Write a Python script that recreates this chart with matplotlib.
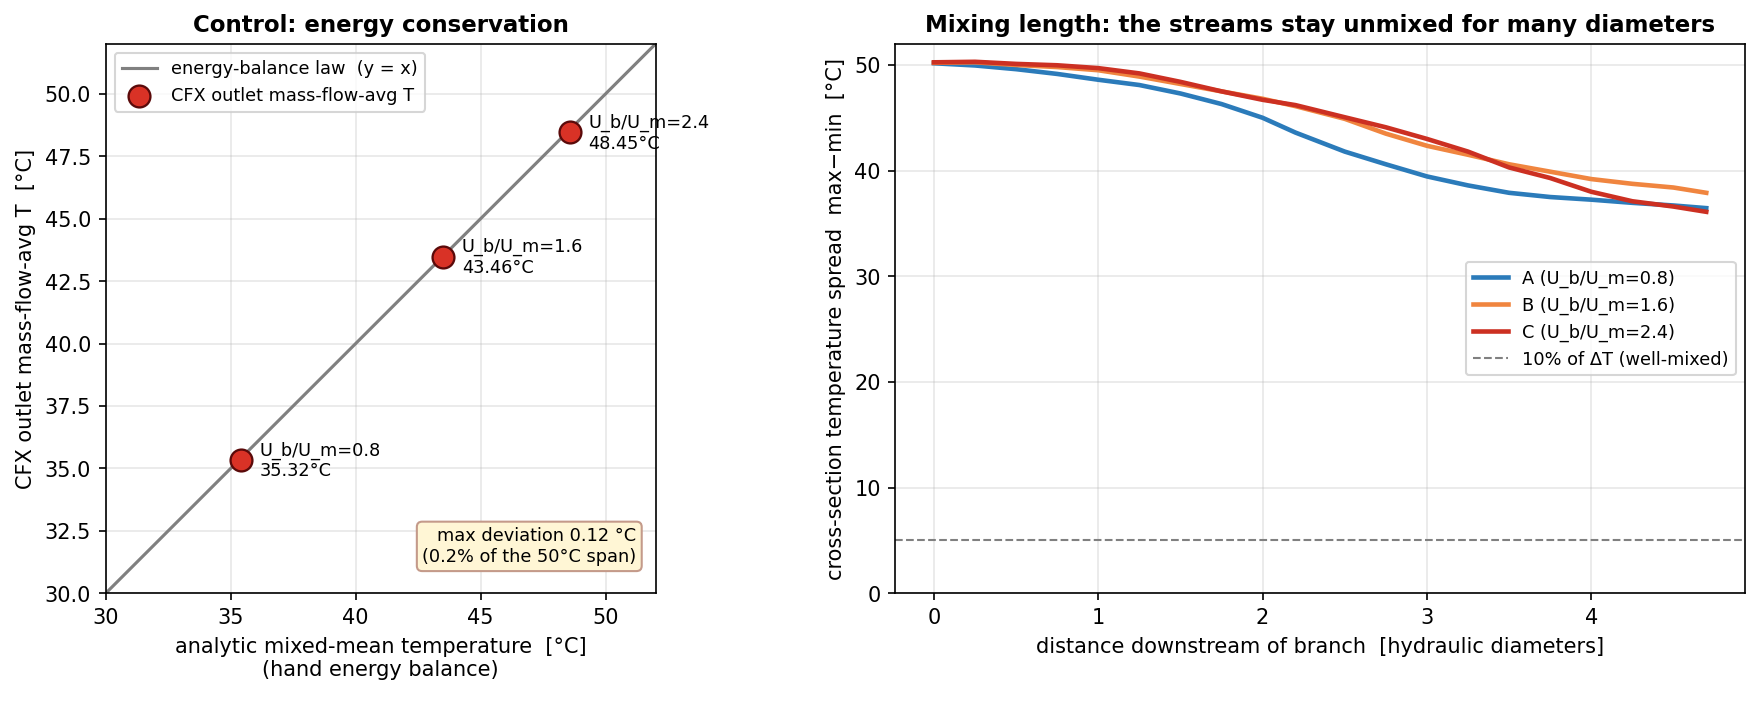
import matplotlib
matplotlib.use("Agg")
import matplotlib.pyplot as plt

# --- left panel: energy balance check ---
ratios = [0.8, 1.6, 2.4]
t_analytic = [35.40, 43.50, 48.57]
t_cfx = [35.32, 43.46, 48.45]

# --- right panel: spread vs distance downstream ---
dist = [0.0, 0.25, 0.5, 0.75, 1.0, 1.25, 1.5, 1.75, 2.0, 2.2, 2.5, 2.75,
        3.0, 3.25, 3.5, 3.75, 4.0, 4.25, 4.5, 4.7]
spread_a = [50.16, 49.95, 49.6, 49.15, 48.6, 48.1, 47.3, 46.3, 45.0, 43.6, 41.8, 40.6,
            39.45, 38.6, 37.9, 37.5, 37.25, 36.95, 36.7, 36.45]
spread_b = [50.2, 50.25, 50.0, 49.8, 49.5, 48.9, 48.2, 47.5, 46.8, 46.1, 44.9, 43.5,
            42.35, 41.5, 40.6, 39.9, 39.2, 38.75, 38.4, 37.9]
spread_c = [50.25, 50.3, 50.1, 49.97, 49.7, 49.2, 48.4, 47.5, 46.7, 46.2, 45.05, 44.1,
            43.0, 41.8, 40.3, 39.3, 38.0, 37.1, 36.6, 36.1]
delta_t = 50.0
max_dev = 0.12

fig = plt.figure(figsize=(11.75, 4.69), dpi=150)
ax1 = fig.add_axes([0.060, 0.156, 0.312, 0.781])
ax2 = fig.add_axes([0.508, 0.156, 0.482, 0.781])

# left
lo, hi = 30, 52
ax1.plot([lo, hi], [lo, hi], color="#808080", lw=1.5, label="energy-balance law  (y = x)", zorder=2)
ax1.scatter(t_analytic, t_cfx, s=110, color="#d93226", edgecolor="#5a0a0a", lw=1.1,
            zorder=3, label="CFX outlet mass-flow-avg T")
for r, xa, yc in zip(ratios, t_analytic, t_cfx):
    ax1.annotate(f"U_b/U_m={r}\n{yc:.2f}°C", (xa, yc), xytext=(9, 0),
                 textcoords="offset points", va="center", ha="left", fontsize=8.5)
ax1.set_xlim(lo, hi)
ax1.set_ylim(lo, hi)
ax1.grid(alpha=0.3)
ax1.set_xlabel("analytic mixed-mean temperature  [°C]\n(hand energy balance)")
ax1.set_ylabel("CFX outlet mass-flow-avg T  [°C]")
ax1.set_title("Control: energy conservation", fontweight="bold", fontsize=11)
ax1.legend(loc="upper left", fontsize=8.5)
span_pct = max_dev / delta_t * 100
ax1.text(0.965, 0.05, f"max deviation {max_dev:.2f} °C\n({span_pct:.1f}% of the {delta_t:.0f}°C span)",
         transform=ax1.transAxes, ha="right", va="bottom", fontsize=8.5, multialignment="right",
         bbox=dict(boxstyle="round", fc="#fff6d5", ec="#c49a8a"))

# right
ax2.plot(dist, spread_a, color="#2b7bba", lw=2.2, label="A (U_b/U_m=0.8)")
ax2.plot(dist, spread_b, color="#f0853f", lw=2.2, label="B (U_b/U_m=1.6)")
ax2.plot(dist, spread_c, color="#cc3022", lw=2.2, label="C (U_b/U_m=2.4)")
ax2.axhline(0.1 * delta_t, color="#808080", ls="--", lw=1, label="10% of ΔT (well-mixed)")
ax2.set_ylim(0, 52.0)
ax2.grid(alpha=0.3)
ax2.set_xlabel("distance downstream of branch  [hydraulic diameters]")
ax2.set_ylabel("cross-section temperature spread  max−min  [°C]")
ax2.set_title("Mixing length: the streams stay unmixed for many diameters", fontweight="bold", fontsize=11)
ax2.legend(loc="center right", fontsize=8.5)

fig.savefig("out.png", dpi=150)
